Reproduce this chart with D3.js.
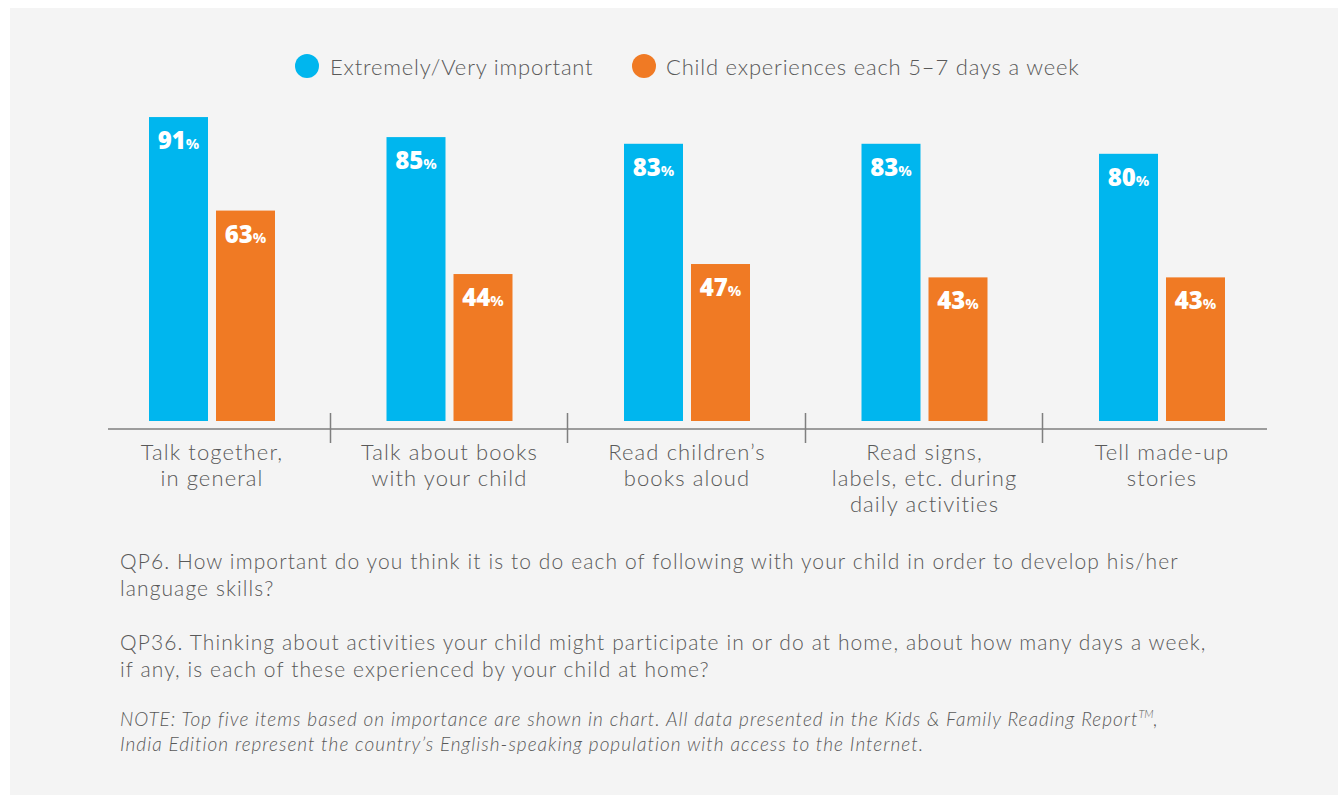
<!DOCTYPE html>
<html>
<head>
<meta charset="utf-8">
<script src="https://cdn.jsdelivr.net/npm/d3@7/dist/d3.min.js"></script>
<style>
  html, body { margin: 0; padding: 0; background: #ffffff; }
  svg { display: block; }
  text { font-family: "Lato", "Open Sans", sans-serif; }
</style>
</head>
<body>
<svg id="chart" width="1338" height="795"></svg>
<script>
// ---- data ----
const categories = [
  ["Talk together,", "in general"],
  ["Talk about books", "with your child"],
  ["Read children\u2019s", "books aloud"],
  ["Read signs,", "labels, etc. during", "daily activities"],
  ["Tell made-up", "stories"]
];
const seriesNames = ["Extremely/Very important", "Child experiences each 5\u20137 days a week"];
const importantValues = [91, 85, 83, 83, 80];
const experiencesValues = [63, 44, 47, 43, 43];
const seriesColors = ["#00b6ee", "#f07a24"];
const footnotes = [
  ["QP6. How important do you think it is to do each of following with your child in order to develop his/her", "language skills?"],
  ["QP36. Thinking about activities your child might participate in or do at home, about how many days a week,", "if any, is each of these experienced by your child at home?"]
];

const svg = d3.select("#chart");
const textColor = "#595959";

// panel
svg.append("rect").attr("x", 10).attr("y", 8).attr("width", 1328).attr("height", 787).attr("fill", "#f4f4f4");

const catKeys = categories.map((c, i) => "c" + i);
const x0 = d3.scaleBand().domain(catKeys).range([93.25, 1280.75]).paddingInner(0).paddingOuter(0);
const x1 = d3.scaleBand().domain([0, 1]).range([0, 126]).paddingInner(0.1194).paddingOuter(0);
const y = d3.scaleLinear().domain([0, 100]).range([421, 87]);

const rows = catKeys.map((k, i) => ({ key: k, label: categories[i], vals: [importantValues[i], experiencesValues[i]] }));

// axis line
svg.append("line").attr("x1", 108).attr("x2", 1267).attr("y1", 429).attr("y2", 429)
  .attr("stroke", "#7f7f7f").attr("stroke-width", 1.5);

// dividers
catKeys.slice(1).forEach(k => {
  const xx = Math.round(x0(k)) - 0.5;
  svg.append("line").attr("x1", xx).attr("x2", xx).attr("y1", 413).attr("y2", 443)
    .attr("stroke", "#7f7f7f").attr("stroke-width", 1.5);
});

// bars
const groups = svg.selectAll("g.grp").data(rows).enter().append("g")
  .attr("class", "grp")
  .attr("transform", d => `translate(${x0(d.key) + x0.bandwidth() / 2 - 63},0)`);

groups.selectAll("rect").data(d => d.vals.map((v, j) => ({ v, j }))).enter().append("rect")
  .attr("x", d => x1(d.j))
  .attr("width", x1.bandwidth())
  .attr("y", d => y(d.v))
  .attr("height", d => y(0) - y(d.v))
  .attr("fill", d => seriesColors[d.j]);

const vl = groups.selectAll("text.val").data(d => d.vals.map((v, j) => ({ v, j }))).enter().append("text")
  .attr("class", "val")
  .attr("x", d => x1(d.j) + x1.bandwidth() / 2)
  .attr("y", d => y(d.v) + 32)
  .attr("text-anchor", "middle")
  .attr("fill", "#ffffff")
  .style("font-family", "'Open Sans', sans-serif")
  .style("font-weight", 800)
  .style("font-size", "24px");
vl.append("tspan").text(d => d.v);
vl.append("tspan").text("%").style("font-size", "15px").style("font-weight", 700);

// category labels
groups.each(function(d) {
  const t = d3.select(this).append("text")
    .attr("x", 63).attr("y", 460)
    .attr("text-anchor", "middle")
    .attr("fill", textColor)
    .style("font-size", "22px")
    .style("letter-spacing", "1.1px")
    .style("font-weight", 300);
  d.label.forEach((line, i) => {
    t.append("tspan").attr("x", 63).attr("y", 460 + i * 26).text(line);
  });
});

// legend
const legendItems = [{ cx: 307, tx: 330 }, { cx: 644, tx: 666 }];
legendItems.forEach((it, i) => {
  svg.append("circle").attr("cx", it.cx).attr("cy", 66).attr("r", 12).attr("fill", seriesColors[i]);
  svg.append("text").attr("x", it.tx).attr("y", 75).attr("fill", textColor)
    .style("font-size", "22px").style("letter-spacing", "0.8px").style("font-weight", 300).text(seriesNames[i]);
});

// footnotes
const fnY = [569, 650];
footnotes.forEach((lines, i) => {
  lines.forEach((line, j) => {
    svg.append("text").attr("x", 120).attr("y", fnY[i] + j * 26.5).attr("fill", textColor)
      .style("font-size", "21px").style("letter-spacing", "1.1px").style("font-weight", 300).text(line);
  });
});

const note = svg.append("text").attr("x", 120).attr("y", 726).attr("fill", textColor)
  .style("font-size", "19px").style("letter-spacing", "1px").style("font-style", "italic").style("font-weight", 300);
note.append("tspan").text("NOTE: Top five items based on importance are shown in chart. All data presented in the Kids & Family Reading Report");
note.append("tspan").text("TM").attr("dy", -8).style("font-size", "11px").style("letter-spacing", "0px");
note.append("tspan").text(",").attr("dy", 8);
svg.append("text").attr("x", 120).attr("y", 751).attr("fill", textColor)
  .style("font-size", "19px").style("letter-spacing", "1px").style("font-style", "italic").style("font-weight", 300)
  .text("India Edition represent the country\u2019s English-speaking population with access to the Internet.");
</script>
</body>
</html>
